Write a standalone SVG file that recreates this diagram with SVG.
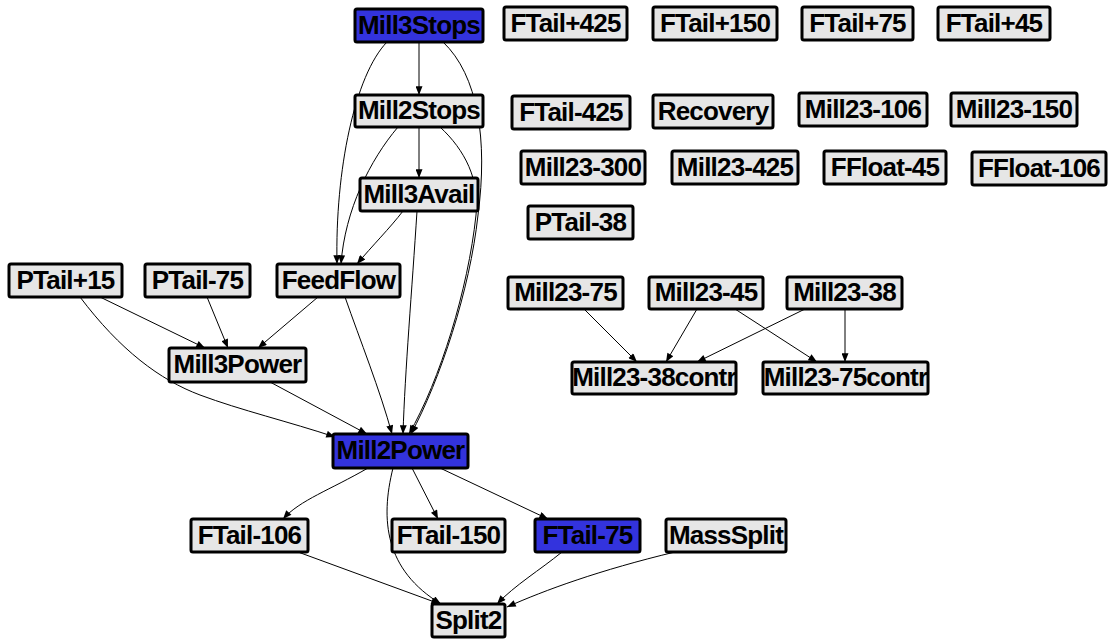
<svg xmlns="http://www.w3.org/2000/svg" width="1108" height="639" viewBox="0 0 1108 639">
  <style>
    .bg { fill: #e6e6e6; }
    .hl { fill: #3333dd; }
    .frame { fill: none; stroke: #000; stroke-width: 3; }
    .lbl { font-family: "Liberation Sans", Arial, sans-serif; font-weight: bold; font-size: 26px; letter-spacing: -0.8px; fill: #000; text-anchor: middle; }
    .edge { fill: none; stroke: #000; stroke-width: 1; marker-end: url(#arrow); }
  </style>
  <defs>
    <marker id="arrow" viewBox="0 0 10 8" refX="10" refY="4" markerWidth="10" markerHeight="7" markerUnits="userSpaceOnUse" orient="auto">
      <path d="M0,0 L10,4 L0,8 Z" fill="#000"/>
    </marker>
  </defs>
  <rect width="1108" height="639" fill="#fff"/>

  <!-- connectors -->
  <g id="edges">
    <path class="edge" d="M419,42 L419,95"/>
    <path class="edge" d="M419,127 L419,178"/>
    <path class="edge" d="M387,42 C355,75 335,170 337,264"/>
    <path class="edge" d="M398,127 C370,160 345,210 341,264"/>
    <path class="edge" d="M403,211 C390,228 372,246 357,264"/>
    <path class="edge" d="M443,42 C478,75 488,140 478,215 C470,290 440,380 411,434"/>
    <path class="edge" d="M440,127 C465,150 480,180 476,215 C468,290 440,380 409,434"/>
    <path class="edge" d="M417,211 C412,290 405,370 403,434"/>
    <path class="edge" d="M345,297 C360,340 380,390 392,434"/>
    <path class="edge" d="M318,297 L258,348"/>
    <path class="edge" d="M207,297 L228,348"/>
    <path class="edge" d="M100,297 L205,348"/>
    <path class="edge" d="M80,297 C120,350 160,380 200,395 C240,410 290,422 335,437"/>
    <path class="edge" d="M270,382 L367,434"/>
    <path class="edge" d="M368,468 C330,490 300,500 283,519"/>
    <path class="edge" d="M393,468 C380,520 385,570 441,604"/>
    <path class="edge" d="M412,468 L438,519"/>
    <path class="edge" d="M440,468 L548,519"/>
    <path class="edge" d="M298,552 L440,604"/>
    <path class="edge" d="M562,552 C540,570 515,585 497,604"/>
    <path class="edge" d="M675,552 C600,570 545,590 507,607"/>
    <path class="edge" d="M584,309 L637,362"/>
    <path class="edge" d="M697,309 L666,362"/>
    <path class="edge" d="M805,309 L697,362"/>
    <path class="edge" d="M735,309 L817,362"/>
    <path class="edge" d="M845,309 L845,362"/>
  </g>

  <!-- nodes -->
  <g id="n-Mill3Stops"><svg x="355" y="9" width="128" height="33"><rect class="hl" width="128" height="33"/><text class="lbl" x="64" y="25">Mill3Stops</text></svg><rect class="frame" x="355" y="9" width="128" height="33" rx="2"/></g>
  <g id="n-FTail-p425"><svg x="504" y="7" width="123" height="33"><rect class="bg" width="123" height="33"/><text class="lbl" x="61.5" y="25">FTail+425</text></svg><rect class="frame" x="504" y="7" width="123" height="33" rx="2"/></g>
  <g id="n-FTail-p150"><svg x="653" y="7" width="124" height="33"><rect class="bg" width="124" height="33"/><text class="lbl" x="62" y="25">FTail+150</text></svg><rect class="frame" x="653" y="7" width="124" height="33" rx="2"/></g>
  <g id="n-FTail-p75"><svg x="802" y="7" width="111" height="33"><rect class="bg" width="111" height="33"/><text class="lbl" x="55.5" y="25">FTail+75</text></svg><rect class="frame" x="802" y="7" width="111" height="33" rx="2"/></g>
  <g id="n-FTail-p45"><svg x="938" y="7" width="112" height="33"><rect class="bg" width="112" height="33"/><text class="lbl" x="56" y="25">FTail+45</text></svg><rect class="frame" x="938" y="7" width="112" height="33" rx="2"/></g>

  <g id="n-Mill2Stops"><svg x="355" y="95" width="128" height="32"><rect class="bg" width="128" height="32"/><text class="lbl" x="64" y="24">Mill2Stops</text></svg><rect class="frame" x="355" y="95" width="128" height="32" rx="2"/></g>
  <g id="n-FTail-m425"><svg x="512" y="96" width="118" height="33"><rect class="bg" width="118" height="33"/><text class="lbl" x="59" y="25">FTail-425</text></svg><rect class="frame" x="512" y="96" width="118" height="33" rx="2"/></g>
  <g id="n-Recovery"><svg x="653" y="95" width="120" height="33"><rect class="bg" width="120" height="33"/><text class="lbl" x="60" y="25">Recovery</text></svg><rect class="frame" x="653" y="95" width="120" height="33" rx="2"/></g>
  <g id="n-Mill23-106"><svg x="799" y="93" width="128" height="33"><rect class="bg" width="128" height="33"/><text class="lbl" x="64" y="25">Mill23-106</text></svg><rect class="frame" x="799" y="93" width="128" height="33" rx="2"/></g>
  <g id="n-Mill23-150"><svg x="951" y="93" width="126" height="33"><rect class="bg" width="126" height="33"/><text class="lbl" x="63" y="25">Mill23-150</text></svg><rect class="frame" x="951" y="93" width="126" height="33" rx="2"/></g>

  <g id="n-Mill23-300"><svg x="521" y="151" width="124" height="33"><rect class="bg" width="124" height="33"/><text class="lbl" x="62" y="25">Mill23-300</text></svg><rect class="frame" x="521" y="151" width="124" height="33" rx="2"/></g>
  <g id="n-Mill23-425"><svg x="672" y="151" width="126" height="33"><rect class="bg" width="126" height="33"/><text class="lbl" x="63" y="25">Mill23-425</text></svg><rect class="frame" x="672" y="151" width="126" height="33" rx="2"/></g>
  <g id="n-FFloat-45"><svg x="824" y="151" width="122" height="33"><rect class="bg" width="122" height="33"/><text class="lbl" x="61" y="25">FFloat-45</text></svg><rect class="frame" x="824" y="151" width="122" height="33" rx="2"/></g>
  <g id="n-FFloat-106"><svg x="972" y="152" width="134" height="33"><rect class="bg" width="134" height="33"/><text class="lbl" x="67" y="25">FFloat-106</text></svg><rect class="frame" x="972" y="152" width="134" height="33" rx="2"/></g>

  <g id="n-Mill3Avail"><svg x="360" y="178" width="118" height="33"><rect class="bg" width="118" height="33"/><text class="lbl" x="59" y="25">Mill3Avail</text></svg><rect class="frame" x="360" y="178" width="118" height="33" rx="2"/></g>
  <g id="n-PTail-m38"><svg x="528" y="206" width="105" height="33"><rect class="bg" width="105" height="33"/><text class="lbl" x="52.5" y="25">PTail-38</text></svg><rect class="frame" x="528" y="206" width="105" height="33" rx="2"/></g>

  <g id="n-PTail-p15"><svg x="9" y="264" width="113" height="33"><rect class="bg" width="113" height="33"/><text class="lbl" x="56.5" y="25">PTail+15</text></svg><rect class="frame" x="9" y="264" width="113" height="33" rx="2"/></g>
  <g id="n-PTail-m75"><svg x="145" y="264" width="105" height="33"><rect class="bg" width="105" height="33"/><text class="lbl" x="52.5" y="25">PTail-75</text></svg><rect class="frame" x="145" y="264" width="105" height="33" rx="2"/></g>
  <g id="n-FeedFlow"><svg x="277" y="264" width="123" height="33"><rect class="bg" width="123" height="33"/><text class="lbl" x="61.5" y="25">FeedFlow</text></svg><rect class="frame" x="277" y="264" width="123" height="33" rx="2"/></g>

  <g id="n-Mill23-75"><svg x="508" y="277" width="115" height="32"><rect class="bg" width="115" height="32"/><text class="lbl" x="57.5" y="24">Mill23-75</text></svg><rect class="frame" x="508" y="277" width="115" height="32" rx="2"/></g>
  <g id="n-Mill23-45"><svg x="649" y="277" width="114" height="32"><rect class="bg" width="114" height="32"/><text class="lbl" x="57" y="24">Mill23-45</text></svg><rect class="frame" x="649" y="277" width="114" height="32" rx="2"/></g>
  <g id="n-Mill23-38"><svg x="787" y="277" width="115" height="32"><rect class="bg" width="115" height="32"/><text class="lbl" x="57.5" y="24">Mill23-38</text></svg><rect class="frame" x="787" y="277" width="115" height="32" rx="2"/></g>

  <g id="n-Mill3Power"><svg x="169" y="348" width="137" height="34"><rect class="bg" width="137" height="34"/><text class="lbl" x="68.5" y="25">Mill3Power</text></svg><rect class="frame" x="169" y="348" width="137" height="34" rx="2"/></g>
  <g id="n-Mill23-38contr"><svg x="572" y="362" width="164" height="32"><rect class="bg" width="164" height="32"/><text class="lbl" x="82" y="24">Mill23-38contr</text></svg><rect class="frame" x="572" y="362" width="164" height="32" rx="2"/></g>
  <g id="n-Mill23-75contr"><svg x="763" y="362" width="165" height="32"><rect class="bg" width="165" height="32"/><text class="lbl" x="82.5" y="24">Mill23-75contr</text></svg><rect class="frame" x="763" y="362" width="165" height="32" rx="2"/></g>

  <g id="n-Mill2Power"><svg x="333" y="434" width="135" height="34"><rect class="hl" width="135" height="34"/><text class="lbl" x="67.5" y="25">Mill2Power</text></svg><rect class="frame" x="333" y="434" width="135" height="34" rx="2"/></g>

  <g id="n-FTail-m106"><svg x="191" y="519" width="117" height="33"><rect class="bg" width="117" height="33"/><text class="lbl" x="58.5" y="25">FTail-106</text></svg><rect class="frame" x="191" y="519" width="117" height="33" rx="2"/></g>
  <g id="n-FTail-m150"><svg x="392" y="519" width="113" height="33"><rect class="bg" width="113" height="33"/><text class="lbl" x="56.5" y="25">FTail-150</text></svg><rect class="frame" x="392" y="519" width="113" height="33" rx="2"/></g>
  <g id="n-FTail-m75"><svg x="535" y="519" width="105" height="33"><rect class="hl" width="105" height="33"/><text class="lbl" x="52.5" y="25">FTail-75</text></svg><rect class="frame" x="535" y="519" width="105" height="33" rx="2"/></g>
  <g id="n-MassSplit"><svg x="666" y="519" width="120" height="33"><rect class="bg" width="120" height="33"/><text class="lbl" x="60" y="25">MassSplit</text></svg><rect class="frame" x="666" y="519" width="120" height="33" rx="2"/></g>

  <g id="n-Split2"><svg x="432" y="604" width="73" height="33"><rect class="bg" width="73" height="33"/><text class="lbl" x="36.5" y="25">Split2</text></svg><rect class="frame" x="432" y="604" width="73" height="33" rx="2"/></g>
</svg>
